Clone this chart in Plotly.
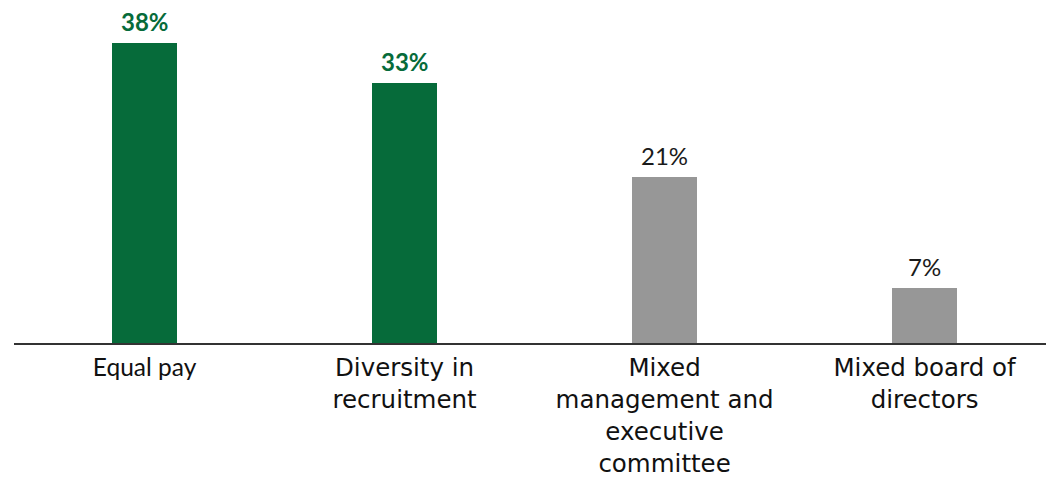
import plotly.graph_objects as go

# Survey results: share of respondents per measure (%)
categories = ["Equal pay", "Diversity in recruitment",
              "Mixed management and executive committee", "Mixed board of directors"]
tick_labels = [
    '<span style="font-family:Lato;font-size:24.5px">Equal pay</span>',
    "Diversity in<br>recruitment",
    "Mixed<br>management and<br>executive<br>committee",
    "Mixed board of<br>directors",
]
values = [38, 33, 21, 7]
highlighted = [True, True, False, False]

GREEN = "#066B3A"
GREY = "#979797"

bar_colors = [GREEN if h else GREY for h in highlighted]
x_pos = list(range(len(categories)))

fig = go.Figure(
    go.Bar(
        x=x_pos,
        y=values,
        width=0.25,
        marker=dict(color=bar_colors, line=dict(width=0)),
        hoverinfo="skip",
    )
)

# Value labels above each bar
for i, (v, h) in enumerate(zip(values, highlighted)):
    fig.add_annotation(
        x=i, y=v, text=f"{v}%", showarrow=False,
        yanchor="bottom", yshift=5,
        font=dict(family="Lato", size=24,
                  color=GREEN if h else "#1A1A1A",
                  weight="bold" if h else "normal"),
    )

fig.update_layout(
    width=1046, height=478,
    margin=dict(l=14, r=0, t=0, b=135, autoexpand=False),
    plot_bgcolor="white", paper_bgcolor="white",
    showlegend=False,
    bargap=0,
    xaxis=dict(
        range=[-0.502, 3.467],
        tickmode="array", tickvals=x_pos, ticktext=tick_labels,
        showline=True, linecolor="#333333", linewidth=2,
        showgrid=False, zeroline=False, ticks="",
        tickfont=dict(family="DejaVu Sans", size=24.5, color="#111111"),
        ticklabelstandoff=2,
        tickangle=0,
        automargin=False,
    ),
    yaxis=dict(range=[0, 43.5], visible=False, fixedrange=True),
)

fig.write_html("out.html")
